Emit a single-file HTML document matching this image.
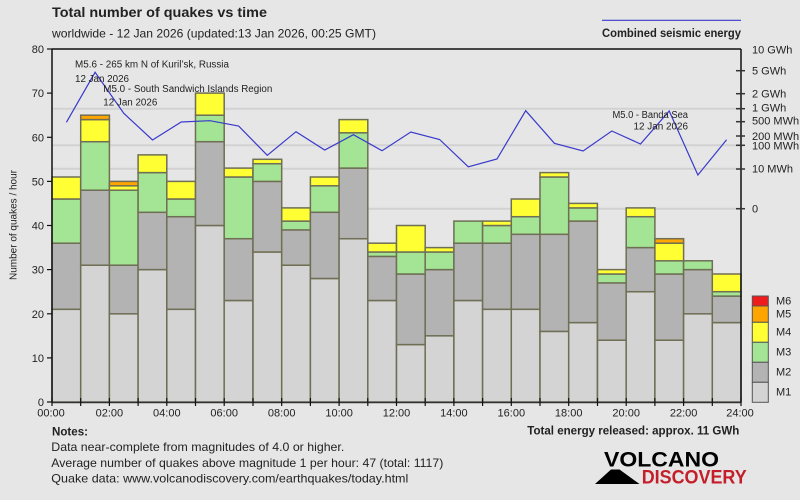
<!DOCTYPE html>
<html><head><meta charset="utf-8"><style>
html,body{margin:0;padding:0;background:#e6e6e6;}
svg{display:block;}
text{font-family:"Liberation Sans","DejaVu Sans",sans-serif;fill:#222;}
</style></head><body>
<svg width="800" height="500" viewBox="0 0 800 500" xmlns="http://www.w3.org/2000/svg">
<rect x="0" y="0" width="800" height="500" fill="#e6e6e6"/>
<!-- gridlines -->
<g stroke="#d2d2d2" stroke-width="2">
<line x1="52" y1="108.7" x2="741" y2="108.7"/>
<line x1="52" y1="145.3" x2="741" y2="145.3"/>
<line x1="52" y1="168.7" x2="741" y2="168.7"/>
<line x1="52" y1="208.7" x2="741" y2="208.7"/>
</g>
<!-- bars -->
<g stroke="#6f6f55" stroke-width="1.5">
<!-- h0 -->
<rect x="52" y="309.3" width="28.7" height="92.7" fill="#d4d4d4"/>
<rect x="52" y="243.2" width="28.7" height="66.1" fill="#b3b3b3"/>
<rect x="52" y="199.0" width="28.7" height="44.2" fill="#a3e595"/>
<rect x="52" y="177.0" width="28.7" height="22.0" fill="#ffff33"/>
<!-- h1 -->
<rect x="80.7" y="265.2" width="28.7" height="136.8" fill="#d4d4d4"/>
<rect x="80.7" y="190.2" width="28.7" height="75.0" fill="#b3b3b3"/>
<rect x="80.7" y="141.7" width="28.7" height="48.5" fill="#a3e595"/>
<rect x="80.7" y="119.6" width="28.7" height="22.1" fill="#ffff33"/>
<rect x="80.7" y="115.2" width="28.7" height="4.4" fill="#ffa500"/>
<!-- h2 -->
<rect x="109.4" y="313.8" width="28.7" height="88.2" fill="#d4d4d4"/>
<rect x="109.4" y="265.2" width="28.7" height="48.6" fill="#b3b3b3"/>
<rect x="109.4" y="190.2" width="28.7" height="75.0" fill="#a3e595"/>
<rect x="109.4" y="185.8" width="28.7" height="4.4" fill="#ffff33"/>
<rect x="109.4" y="181.4" width="28.7" height="4.4" fill="#ffa500"/>
<!-- h3 -->
<rect x="138.1" y="269.6" width="28.7" height="132.4" fill="#d4d4d4"/>
<rect x="138.1" y="212.3" width="28.7" height="57.3" fill="#b3b3b3"/>
<rect x="138.1" y="172.6" width="28.7" height="39.7" fill="#a3e595"/>
<rect x="138.1" y="154.9" width="28.7" height="17.7" fill="#ffff33"/>
<!-- h4 -->
<rect x="166.8" y="309.3" width="28.7" height="92.7" fill="#d4d4d4"/>
<rect x="166.8" y="216.7" width="28.7" height="92.6" fill="#b3b3b3"/>
<rect x="166.8" y="199.0" width="28.7" height="17.7" fill="#a3e595"/>
<rect x="166.8" y="181.4" width="28.7" height="17.6" fill="#ffff33"/>
<!-- h5 -->
<rect x="195.5" y="225.5" width="28.7" height="176.5" fill="#d4d4d4"/>
<rect x="195.5" y="141.7" width="28.7" height="83.8" fill="#b3b3b3"/>
<rect x="195.5" y="115.2" width="28.7" height="26.5" fill="#a3e595"/>
<rect x="195.5" y="93.1" width="28.7" height="22.1" fill="#ffff33"/>
<!-- h6 -->
<rect x="224.2" y="300.5" width="28.7" height="101.5" fill="#d4d4d4"/>
<rect x="224.2" y="238.7" width="28.7" height="61.8" fill="#b3b3b3"/>
<rect x="224.2" y="177.0" width="28.7" height="61.7" fill="#a3e595"/>
<rect x="224.2" y="168.1" width="28.7" height="8.9" fill="#ffff33"/>
<!-- h7 -->
<rect x="253.0" y="252.0" width="28.7" height="150.0" fill="#d4d4d4"/>
<rect x="253.0" y="181.4" width="28.7" height="70.6" fill="#b3b3b3"/>
<rect x="253.0" y="163.7" width="28.7" height="17.7" fill="#a3e595"/>
<rect x="253.0" y="159.3" width="28.7" height="4.4" fill="#ffff33"/>
<!-- h8 -->
<rect x="281.7" y="265.2" width="28.7" height="136.8" fill="#d4d4d4"/>
<rect x="281.7" y="229.9" width="28.7" height="35.3" fill="#b3b3b3"/>
<rect x="281.7" y="221.1" width="28.7" height="8.8" fill="#a3e595"/>
<rect x="281.7" y="207.9" width="28.7" height="13.2" fill="#ffff33"/>
<!-- h9 -->
<rect x="310.4" y="278.5" width="28.7" height="123.5" fill="#d4d4d4"/>
<rect x="310.4" y="212.3" width="28.7" height="66.2" fill="#b3b3b3"/>
<rect x="310.4" y="185.8" width="28.7" height="26.5" fill="#a3e595"/>
<rect x="310.4" y="177.0" width="28.7" height="8.8" fill="#ffff33"/>
<!-- h10 -->
<rect x="339.1" y="238.7" width="28.7" height="163.3" fill="#d4d4d4"/>
<rect x="339.1" y="168.1" width="28.7" height="70.6" fill="#b3b3b3"/>
<rect x="339.1" y="132.8" width="28.7" height="35.3" fill="#a3e595"/>
<rect x="339.1" y="119.6" width="28.7" height="13.2" fill="#ffff33"/>
<!-- h11 -->
<rect x="367.8" y="300.5" width="28.7" height="101.5" fill="#d4d4d4"/>
<rect x="367.8" y="256.4" width="28.7" height="44.1" fill="#b3b3b3"/>
<rect x="367.8" y="252.0" width="28.7" height="4.4" fill="#a3e595"/>
<rect x="367.8" y="243.2" width="28.7" height="8.8" fill="#ffff33"/>
<!-- h12 -->
<rect x="396.5" y="344.6" width="28.7" height="57.4" fill="#d4d4d4"/>
<rect x="396.5" y="274.0" width="28.7" height="70.6" fill="#b3b3b3"/>
<rect x="396.5" y="252.0" width="28.7" height="22.0" fill="#a3e595"/>
<rect x="396.5" y="225.5" width="28.7" height="26.5" fill="#ffff33"/>
<!-- h13 -->
<rect x="425.2" y="335.8" width="28.7" height="66.2" fill="#d4d4d4"/>
<rect x="425.2" y="269.6" width="28.7" height="66.2" fill="#b3b3b3"/>
<rect x="425.2" y="252.0" width="28.7" height="17.6" fill="#a3e595"/>
<rect x="425.2" y="247.6" width="28.7" height="4.4" fill="#ffff33"/>
<!-- h14 -->
<rect x="453.9" y="300.5" width="28.7" height="101.5" fill="#d4d4d4"/>
<rect x="453.9" y="243.2" width="28.7" height="57.3" fill="#b3b3b3"/>
<rect x="453.9" y="221.1" width="28.7" height="22.1" fill="#a3e595"/>
<!-- h15 -->
<rect x="482.6" y="309.3" width="28.7" height="92.7" fill="#d4d4d4"/>
<rect x="482.6" y="243.2" width="28.7" height="66.1" fill="#b3b3b3"/>
<rect x="482.6" y="225.5" width="28.7" height="17.7" fill="#a3e595"/>
<rect x="482.6" y="221.1" width="28.7" height="4.4" fill="#ffff33"/>
<!-- h16 -->
<rect x="511.3" y="309.3" width="28.7" height="92.7" fill="#d4d4d4"/>
<rect x="511.3" y="234.3" width="28.7" height="75.0" fill="#b3b3b3"/>
<rect x="511.3" y="216.7" width="28.7" height="17.6" fill="#a3e595"/>
<rect x="511.3" y="199.0" width="28.7" height="17.7" fill="#ffff33"/>
<!-- h17 -->
<rect x="540.0" y="331.4" width="28.7" height="70.6" fill="#d4d4d4"/>
<rect x="540.0" y="234.3" width="28.7" height="97.1" fill="#b3b3b3"/>
<rect x="540.0" y="177.0" width="28.7" height="57.3" fill="#a3e595"/>
<rect x="540.0" y="172.6" width="28.7" height="4.4" fill="#ffff33"/>
<!-- h18 -->
<rect x="568.7" y="322.6" width="28.7" height="79.4" fill="#d4d4d4"/>
<rect x="568.7" y="221.1" width="28.7" height="101.5" fill="#b3b3b3"/>
<rect x="568.7" y="207.9" width="28.7" height="13.2" fill="#a3e595"/>
<rect x="568.7" y="203.4" width="28.7" height="4.5" fill="#ffff33"/>
<!-- h19 -->
<rect x="597.5" y="340.2" width="28.7" height="61.8" fill="#d4d4d4"/>
<rect x="597.5" y="282.9" width="28.7" height="57.3" fill="#b3b3b3"/>
<rect x="597.5" y="274.0" width="28.7" height="8.9" fill="#a3e595"/>
<rect x="597.5" y="269.6" width="28.7" height="4.4" fill="#ffff33"/>
<!-- h20 -->
<rect x="626.2" y="291.7" width="28.7" height="110.3" fill="#d4d4d4"/>
<rect x="626.2" y="247.6" width="28.7" height="44.1" fill="#b3b3b3"/>
<rect x="626.2" y="216.7" width="28.7" height="30.9" fill="#a3e595"/>
<rect x="626.2" y="207.9" width="28.7" height="8.8" fill="#ffff33"/>
<!-- h21 -->
<rect x="654.9" y="340.2" width="28.7" height="61.8" fill="#d4d4d4"/>
<rect x="654.9" y="274.0" width="28.7" height="66.2" fill="#b3b3b3"/>
<rect x="654.9" y="260.8" width="28.7" height="13.2" fill="#a3e595"/>
<rect x="654.9" y="243.2" width="28.7" height="17.6" fill="#ffff33"/>
<rect x="654.9" y="238.7" width="28.7" height="4.5" fill="#ffa500"/>
<!-- h22 -->
<rect x="683.6" y="313.8" width="28.7" height="88.2" fill="#d4d4d4"/>
<rect x="683.6" y="269.6" width="28.7" height="44.2" fill="#b3b3b3"/>
<rect x="683.6" y="260.8" width="28.7" height="8.8" fill="#a3e595"/>
<!-- h23 -->
<rect x="712.3" y="322.6" width="28.7" height="79.4" fill="#d4d4d4"/>
<rect x="712.3" y="296.1" width="28.7" height="26.5" fill="#b3b3b3"/>
<rect x="712.3" y="291.7" width="28.7" height="4.4" fill="#a3e595"/>
<rect x="712.3" y="274.0" width="28.7" height="17.7" fill="#ffff33"/>
</g>
<!-- energy line -->
<polyline fill="none" stroke="#3a3acc" stroke-width="1.2" points="66.4,122.3 95.1,72.3 123.8,113.3 152.5,140 181.2,122 209.9,120.7 238.6,126 267.3,155.3 296.0,131.7 324.7,150 353.4,134.7 382.1,150.7 410.8,132 439.6,139.5 468.3,166.8 497.0,159 525.7,110.7 554.4,143.3 583.1,151 611.8,131 640.5,144 669.2,111 697.9,175 726.6,139.7"/>
<!-- axes -->
<g stroke="#111" stroke-width="1.5" fill="none">
<line x1="52" y1="49" x2="741" y2="49"/>
<line x1="52" y1="49" x2="52" y2="402"/>
<line x1="741" y1="49" x2="741" y2="402"/>
<line x1="52" y1="402.5" x2="741" y2="402.5" stroke="#333"/>
</g>
<!-- left ticks -->
<g stroke="#111" stroke-width="1.2">
<line x1="47" y1="49" x2="52" y2="49"/>
<line x1="47" y1="93.1" x2="52" y2="93.1"/>
<line x1="47" y1="137.3" x2="52" y2="137.3"/>
<line x1="47" y1="181.4" x2="52" y2="181.4"/>
<line x1="47" y1="225.5" x2="52" y2="225.5"/>
<line x1="47" y1="269.6" x2="52" y2="269.6"/>
<line x1="47" y1="313.8" x2="52" y2="313.8"/>
<line x1="47" y1="357.9" x2="52" y2="357.9"/>
<line x1="47" y1="402" x2="52" y2="402"/>
</g>
<!-- bottom ticks -->
<g stroke="#111" stroke-width="1.2">
<line x1="52" y1="398" x2="52" y2="406"/><line x1="80.7" y1="398" x2="80.7" y2="406"/><line x1="109.4" y1="398" x2="109.4" y2="406"/><line x1="138.1" y1="398" x2="138.1" y2="406"/><line x1="166.8" y1="398" x2="166.8" y2="406"/><line x1="195.5" y1="398" x2="195.5" y2="406"/><line x1="224.2" y1="398" x2="224.2" y2="406"/><line x1="253" y1="398" x2="253" y2="406"/><line x1="281.7" y1="398" x2="281.7" y2="406"/><line x1="310.4" y1="398" x2="310.4" y2="406"/><line x1="339.1" y1="398" x2="339.1" y2="406"/><line x1="367.8" y1="398" x2="367.8" y2="406"/><line x1="396.5" y1="398" x2="396.5" y2="406"/><line x1="425.2" y1="398" x2="425.2" y2="406"/><line x1="453.9" y1="398" x2="453.9" y2="406"/><line x1="482.6" y1="398" x2="482.6" y2="406"/><line x1="511.3" y1="398" x2="511.3" y2="406"/><line x1="540" y1="398" x2="540" y2="406"/><line x1="568.7" y1="398" x2="568.7" y2="406"/><line x1="597.5" y1="398" x2="597.5" y2="406"/><line x1="626.2" y1="398" x2="626.2" y2="406"/><line x1="654.9" y1="398" x2="654.9" y2="406"/><line x1="683.6" y1="398" x2="683.6" y2="406"/><line x1="712.3" y1="398" x2="712.3" y2="406"/><line x1="741" y1="398" x2="741" y2="406"/>
</g>
<!-- right ticks -->
<g stroke="#333" stroke-width="1.5">
<line x1="736" y1="70.7" x2="745" y2="70.7"/>
<line x1="736" y1="93.7" x2="745" y2="93.7"/>
<line x1="736" y1="108.7" x2="745" y2="108.7"/>
<line x1="736" y1="121.7" x2="745" y2="121.7"/>
<line x1="736" y1="136" x2="745" y2="136"/>
<line x1="736" y1="145.3" x2="745" y2="145.3"/>
<line x1="736" y1="169" x2="745" y2="169"/>
<line x1="736" y1="208.7" x2="745" y2="208.7"/>
</g>
<!-- left labels -->
<g font-size="11" text-anchor="end">
<text x="44" y="53">80</text>
<text x="44" y="97.1">70</text>
<text x="44" y="141.3">60</text>
<text x="44" y="185.4">50</text>
<text x="44" y="229.5">40</text>
<text x="44" y="273.6">30</text>
<text x="44" y="317.8">20</text>
<text x="44" y="361.9">10</text>
<text x="44" y="406">0</text>
</g>
<text x="0" y="0" font-size="10" text-anchor="middle" transform="translate(16.5,225) rotate(-90)" textLength="110" lengthAdjust="spacingAndGlyphs">Number of quakes / hour</text>
<!-- right labels -->
<g font-size="11">
<text x="752" y="53.3">10 GWh</text>
<text x="752" y="74.7">5 GWh</text>
<text x="752" y="97.3">2 GWh</text>
<text x="752" y="111.7">1 GWh</text>
<text x="752" y="124.7">500 MWh</text>
<text x="752" y="140">200 MWh</text>
<text x="752" y="149.3">100 MWh</text>
<text x="752" y="172.7">10 MWh</text>
<text x="752" y="212.7">0</text>
</g>
<!-- x labels -->
<g font-size="11" text-anchor="middle">
<text x="51" y="416.5">00:00</text>
<text x="109.4" y="416.5">02:00</text>
<text x="166.8" y="416.5">04:00</text>
<text x="224.2" y="416.5">06:00</text>
<text x="281.7" y="416.5">08:00</text>
<text x="339.1" y="416.5">10:00</text>
<text x="396.5" y="416.5">12:00</text>
<text x="453.9" y="416.5">14:00</text>
<text x="511.3" y="416.5">16:00</text>
<text x="568.7" y="416.5">18:00</text>
<text x="626.2" y="416.5">20:00</text>
<text x="683.6" y="416.5">22:00</text>
<text x="740" y="416.5">24:00</text>
</g>
<!-- titles -->
<text x="52" y="17" font-size="13.5" font-weight="bold" textLength="215" lengthAdjust="spacingAndGlyphs">Total number of quakes vs time</text>
<text x="52" y="37.7" font-size="12" textLength="324" lengthAdjust="spacingAndGlyphs">worldwide - 12 Jan 2026 (updated:13 Jan 2026, 00:25 GMT)</text>
<line x1="602" y1="20.3" x2="741" y2="20.3" stroke="#3a3acc" stroke-width="1.2"/>
<text x="602" y="37" font-size="11.5" font-weight="bold" textLength="139" lengthAdjust="spacingAndGlyphs">Combined seismic energy</text>
<!-- annotations -->
<g font-size="10">
<text x="75" y="67.7" textLength="154" lengthAdjust="spacingAndGlyphs">M5.6 - 265 km N of Kuril’sk, Russia</text>
<text x="75" y="82" textLength="54" lengthAdjust="spacingAndGlyphs">12 Jan 2026</text>
<text x="103.3" y="92" textLength="169" lengthAdjust="spacingAndGlyphs">M5.0 - South Sandwich Islands Region</text>
<text x="103.3" y="105.5" textLength="54" lengthAdjust="spacingAndGlyphs">12 Jan 2026</text>
<text x="612.5" y="117.8" textLength="75.5" lengthAdjust="spacingAndGlyphs">M5.0 - Banda Sea</text>
<text x="633.5" y="129.7" textLength="54.5" lengthAdjust="spacingAndGlyphs">12 Jan 2026</text>
</g>
<!-- legend -->
<g stroke="#555" stroke-width="1">
<rect x="752.3" y="296" width="16" height="10" fill="#ee1c1c"/>
<rect x="752.3" y="306" width="16" height="16.3" fill="#ffa500"/>
<rect x="752.3" y="322.3" width="16" height="20" fill="#ffff33"/>
<rect x="752.3" y="342.3" width="16" height="20" fill="#a3e595"/>
<rect x="752.3" y="362.3" width="16" height="20" fill="#b3b3b3"/>
<rect x="752.3" y="382.3" width="16" height="20" fill="#d4d4d4"/>
</g>
<g font-size="11">
<text x="776" y="304.7">M6</text>
<text x="776" y="317.3">M5</text>
<text x="776" y="335.7">M4</text>
<text x="776" y="355.7">M3</text>
<text x="776" y="375.7">M2</text>
<text x="776" y="395.7">M1</text>
</g>
<!-- notes -->
<text x="52" y="435.7" font-size="12" font-weight="bold" textLength="36" lengthAdjust="spacingAndGlyphs">Notes:</text>
<text x="51.3" y="451" font-size="12" textLength="293" lengthAdjust="spacingAndGlyphs">Data near-complete from magnitudes of 4.0 or higher.</text>
<text x="51.3" y="467" font-size="12" textLength="392" lengthAdjust="spacingAndGlyphs">Average number of quakes above magnitude 1 per hour: 47 (total: 1117)</text>
<text x="51.3" y="482.3" font-size="12" textLength="357" lengthAdjust="spacingAndGlyphs">Quake data: www.volcanodiscovery.com/earthquakes/today.html</text>
<text x="527.3" y="434.7" font-size="12" font-weight="bold" textLength="212" lengthAdjust="spacingAndGlyphs">Total energy released: approx. 11 GWh</text>
<!-- logo -->
<polygon points="595,484 611,469.5 619.5,469.5 639.5,484" fill="#000"/>
<text x="604" y="466.7" font-size="21" font-weight="bold" style="fill:#000" textLength="115" lengthAdjust="spacingAndGlyphs">VOLCANO</text>
<text x="641.7" y="483.5" font-size="19.5" font-weight="bold" style="fill:#c41e2a" textLength="105" lengthAdjust="spacingAndGlyphs">DISCOVERY</text>
</svg>
</body></html>
